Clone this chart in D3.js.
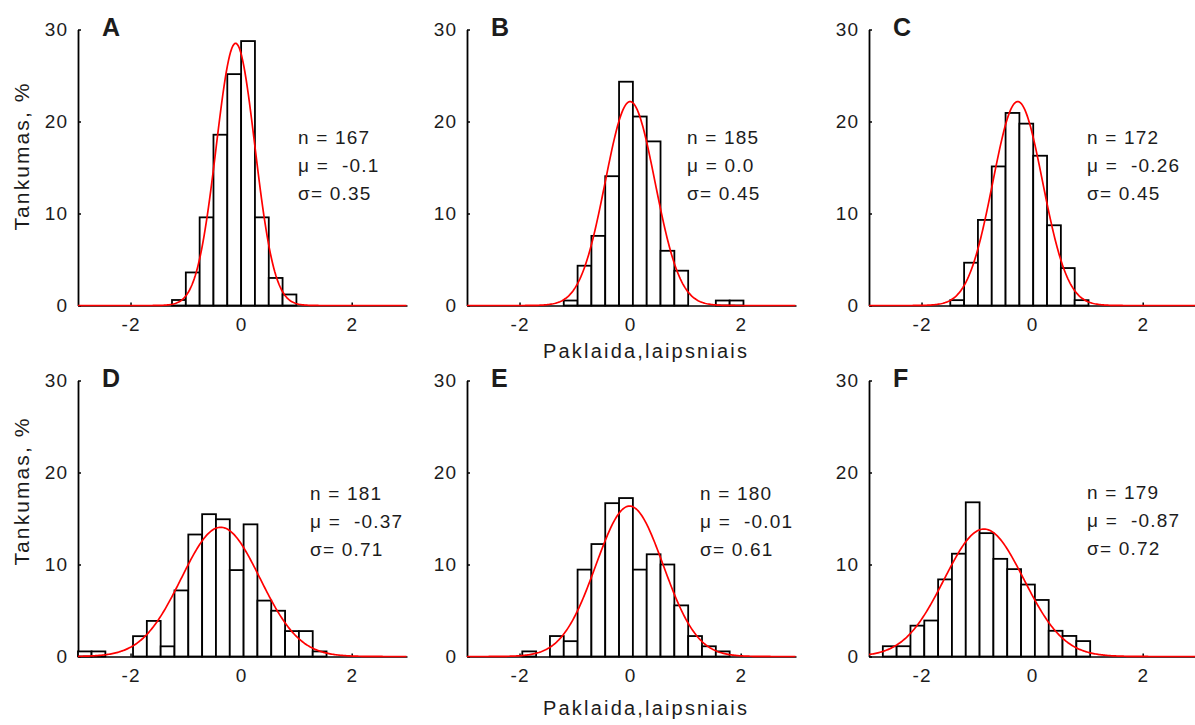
<!DOCTYPE html>
<html>
<head>
<meta charset="utf-8">
<script src="https://cdn.jsdelivr.net/npm/d3@7"></script>
<style>
  body { margin: 0; background: #fff; }
  text { font-family: Arial, "Liberation Sans", sans-serif; fill: #1c1c1c; }
</style>
</head>
<body>
<svg id="chart" width="1195" height="725"></svg>
<script>
// Histogram panels of angular error with fitted normal curves
const panelLetters = ["A", "B", "C", "D", "E", "F"];
const sampleSizes  = [167, 185, 172, 181, 180, 179];
const means        = [-0.1, 0.0, -0.26, -0.37, -0.01, -0.87];
const meanLabels   = ["-0.1", "0.0", "-0.26", "-0.37", "-0.01", "-0.87"];
const sigmas       = [0.35, 0.45, 0.45, 0.71, 0.61, 0.72];
const sigmaLabels  = ["0.35", "0.45", "0.45", "0.71", "0.61", "0.72"];

// left edge of the first bin in each panel; bins are 0.25 wide
const binStarts = [-1.25, -1.20, -1.48, -2.955, -1.95, -2.70];
const binWidth = 0.25;

// counts per bin
const countsA = [1, 6, 16, 31, 42, 48, 16, 5, 2];
const countsB = [1, 8, 14, 26, 45, 38, 33, 11, 7, 0, 0, 1, 1];
const countsC = [1, 8, 16, 26, 36, 34, 28, 15, 7, 1];
const countsD = [1, 1, 0, 0, 4, 7, 2, 13, 24, 28, 27, 17, 26, 11, 9, 5, 5, 1];
const countsE = [1, 0, 4, 3, 17, 22, 30, 31, 17, 20, 18, 10, 4, 2, 1];
const countsF = [2, 2, 6, 7, 15, 20, 30, 24, 19, 17, 14, 11, 5, 4, 3];
const allCounts = [countsA, countsB, countsC, countsD, countsE, countsF];

const xTicks = [-2, 0, 2];
const yTicks = [0, 10, 20, 30];
const xDomain = [-2.95, 3.0];
const yDomain = [0, 30];

const yTitle = "Tankumas, %";
const xTitle = "Paklaida,laipsniais";

// layout
const colX = [78, 467, 869];
const rowTop = [29.5, 380.5];
const plotW = 329;
const plotH = 276;
const statsPos = [[220, 114], [220, 114], [218, 114], [232, 119], [233, 119], [218, 118]];

const svg = d3.select("#chart");
svg.append("rect").attr("width", 1195).attr("height", 725).attr("fill", "#fff");

function normalPdf(x, mu, s) {
  return Math.exp(-0.5 * ((x - mu) / s) ** 2) / (s * Math.sqrt(2 * Math.PI));
}

panelLetters.forEach((letter, i) => {
  const col = i % 3, row = Math.floor(i / 3);
  const g = svg.append("g").attr("transform", `translate(${colX[col]},${rowTop[row]})`);

  const x = d3.scaleLinear().domain(xDomain).range([0, plotW]).clamp(true);
  const y = d3.scaleLinear().domain(yDomain).range([plotH, 0]);

  const n = sampleSizes[i];
  const bins = allCounts[i].map((c, k) => ({
    x0: binStarts[i] + k * binWidth,
    x1: binStarts[i] + (k + 1) * binWidth,
    pct: c / n * 100
  })).filter(b => b.pct > 0);

  // x axis (inward ticks)
  const xAxis = g.append("g").attr("transform", `translate(0,${plotH})`)
    .call(d3.axisBottom(x).tickValues(xTicks).tickFormat(d => String(d))
      .tickSizeInner(-3).tickSizeOuter(0).tickPadding(12));
  xAxis.select(".domain").attr("stroke", "#000").attr("stroke-width", 1.5);
  xAxis.selectAll(".tick line").attr("stroke", "#000").attr("stroke-width", 1.5);
  xAxis.selectAll("text").attr("font-size", 19).attr("fill", "#1c1c1c")
    .style("letter-spacing", "1px");

  // y axis (inward ticks)
  const yAxis = g.append("g")
    .call(d3.axisLeft(y).tickValues(yTicks).tickFormat(d => String(d))
      .tickSizeInner(-3).tickSizeOuter(0).tickPadding(10));
  yAxis.select(".domain").attr("stroke", "#000").attr("stroke-width", 1.8);
  yAxis.selectAll(".tick line").attr("stroke", "#000").attr("stroke-width", 1.5);
  yAxis.selectAll("text").attr("font-size", 19).attr("fill", "#1c1c1c")
    .style("letter-spacing", "1px");

  // histogram bars
  g.append("g").selectAll("rect").data(bins).join("rect")
    .attr("x", d => x(d.x0))
    .attr("y", d => y(d.pct))
    .attr("width", d => x(d.x1) - x(d.x0))
    .attr("height", d => y(0) - y(d.pct))
    .attr("fill", "#fff")
    .attr("stroke", "#000")
    .attr("stroke-width", 1.8);

  // fitted normal curve, scaled to percent per bin
  const xs = d3.range(xDomain[0], xDomain[1] + 1e-9, 0.02);
  const curve = xs.map(v => [v, 100 * binWidth * normalPdf(v, means[i], sigmas[i])]);
  g.append("path").datum(curve)
    .attr("fill", "none")
    .attr("stroke", "#ff0000")
    .attr("stroke-width", 1.7)
    .attr("d", d3.line().x(d => x(d[0])).y(d => y(d[1])));

  // panel letter
  g.append("text").attr("x", 24).attr("y", 6)
    .attr("font-size", 25).attr("font-weight", "bold").attr("fill", "#000")
    .text(letter);

  // statistics
  const [sx, sy] = statsPos[i];
  const lines = [
    `n = ${n}`,
    means[i] < 0 ? `\u03bc =  ${meanLabels[i]}` : `\u03bc = ${meanLabels[i]}`,
    `\u03c3= ${sigmaLabels[i]}`
  ];
  g.append("g").selectAll("text").data(lines).join("text")
    .attr("x", sx).attr("y", (d, k) => sy + k * 28)
    .attr("font-size", 19)
    .style("white-space", "pre")
    .style("letter-spacing", "1.2px")
    .text(d => d);
});

// axis titles
[157, 492].forEach(cy => {
  svg.append("text")
    .attr("transform", `translate(29,${cy}) rotate(-90)`)
    .attr("text-anchor", "middle")
    .attr("font-size", 21)
    .attr("textLength", 147).attr("lengthAdjust", "spacing")
    .text(yTitle);
});
[358, 715].forEach(by => {
  svg.append("text")
    .attr("x", 645).attr("y", by)
    .attr("text-anchor", "middle")
    .attr("font-size", 20)
    .attr("textLength", 204).attr("lengthAdjust", "spacing")
    .text(xTitle);
});
</script>
</body>
</html>
